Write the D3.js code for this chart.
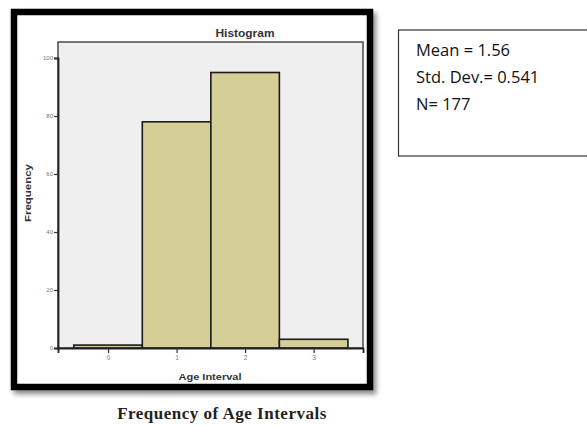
<!DOCTYPE html>
<html><head><meta charset="utf-8">
<script src="https://cdn.jsdelivr.net/npm/d3@7"></script>
<style>body{margin:0;background:#fff;}svg{display:block;}</style>
</head><body><svg id="c" width="587" height="426"></svg>
<script>
const categories = [0, 1, 2, 3];
const frequencies = [1, 78, 95, 3];
const yTicks = [0, 20, 40, 60, 80, 100];
const statsLines = ["Mean = 1.56", "Std. Dev.= 0.541", "N= 177"];
const chartTitle = "Histogram";
const xTitle = "Age Interval";
const yTitle = "Frequency";
const caption = "Frequency of Age Intervals";

const svg = d3.select("#c");
const defs = svg.append("defs");
const f = defs.append("filter").attr("id","sh").attr("x","-10%").attr("y","-10%").attr("width","130%").attr("height","130%");
f.append("feDropShadow").attr("dx",3).attr("dy",4).attr("stdDeviation",2.5).attr("flood-color","#000").attr("flood-opacity",0.45);

// frame
svg.append("rect").attr("x",14).attr("y",12).attr("width",356).attr("height",375)
  .attr("fill","#fff").attr("stroke","#000").attr("stroke-width",6.5).attr("filter","url(#sh)");

const L = 58, R = 363, T = 42, B = 348;
const x = d3.scaleLinear().domain([-0.73, 3.72]).range([L, R]);
const y = d3.scaleLinear().domain([0, 100]).range([B, 58]);

svg.append("rect").attr("x",L).attr("y",T).attr("width",R-L).attr("height",B-T)
  .attr("fill","#efefef").attr("stroke","#4a4a4a").attr("stroke-width",1.5);

svg.selectAll("rect.bar").data(categories).join("rect").attr("class","bar")
  .attr("x",d=>x(d-0.5)).attr("width",d=>x(d+0.5)-x(d-0.5))
  .attr("y",(d,i)=>y(frequencies[i])).attr("height",(d,i)=>B-y(frequencies[i]))
  .attr("fill","#d3cf96").attr("stroke","#1a1a1a").attr("stroke-width",1.6);

// axes
const yAxis = d3.axisLeft(y).tickValues(yTicks).tickSize(4).tickPadding(1);
const gy = svg.append("g").attr("transform",`translate(${L},0)`).call(yAxis);
gy.select(".domain").attr("stroke","#222").attr("stroke-width",1.8);
gy.selectAll(".tick line").attr("stroke","#333").attr("stroke-width",1.2);
gy.selectAll(".tick text").attr("font-family","Liberation Sans, Arial").attr("font-size",6).attr("fill","#777");

const xAxis = d3.axisBottom(x).tickValues(categories).tickSize(5).tickPadding(2).tickFormat(d3.format("d"));
const gx = svg.append("g").attr("transform",`translate(0,${B})`).call(xAxis);
gx.select(".domain").attr("stroke","#222").attr("stroke-width",1.8);
gx.selectAll(".tick line").attr("stroke","#333").attr("stroke-width",1.2);
gx.selectAll(".tick text").attr("font-family","Liberation Sans, Arial").attr("font-size",6.5).attr("fill","#777");

svg.append("text").attr("x",245).attr("y",37).attr("text-anchor","middle")
  .attr("font-family","Liberation Sans, Arial").attr("font-weight","bold").attr("font-size",10)
  .attr("textLength",59).attr("lengthAdjust","spacingAndGlyphs").attr("fill","#333").text(chartTitle);
svg.append("text").attr("x",210).attr("y",380).attr("text-anchor","middle")
  .attr("font-family","Liberation Sans, Arial").attr("font-weight","bold").attr("font-size",9)
  .attr("textLength",63).attr("lengthAdjust","spacingAndGlyphs").attr("fill","#333").text(xTitle);
svg.append("text").attr("transform",`translate(31,193) rotate(-90)`).attr("text-anchor","middle")
  .attr("font-family","Liberation Sans, Arial").attr("font-weight","bold").attr("font-size",8.5)
  .attr("textLength",58).attr("lengthAdjust","spacingAndGlyphs").attr("fill","#333").text(yTitle);

svg.append("text").attr("x",222).attr("y",419).attr("text-anchor","middle")
  .attr("font-family","Liberation Serif, Times New Roman, serif").attr("font-weight","bold").attr("font-size",17)
  .attr("letter-spacing",0.5).attr("fill","#222").text(caption);

// stats box
svg.append("rect").attr("x",398.5).attr("y",30).attr("width",200).attr("height",126)
  .attr("fill","#fff").attr("stroke","#333").attr("stroke-width",1.2);
svg.selectAll("text.st").data(statsLines).join("text").attr("class","st")
  .attr("x",416).attr("y",(d,i)=>56+i*27)
  .attr("font-family","Open Sans, sans-serif").attr("font-size",16.5).attr("fill","#111").text(d=>d);
</script></body></html>
